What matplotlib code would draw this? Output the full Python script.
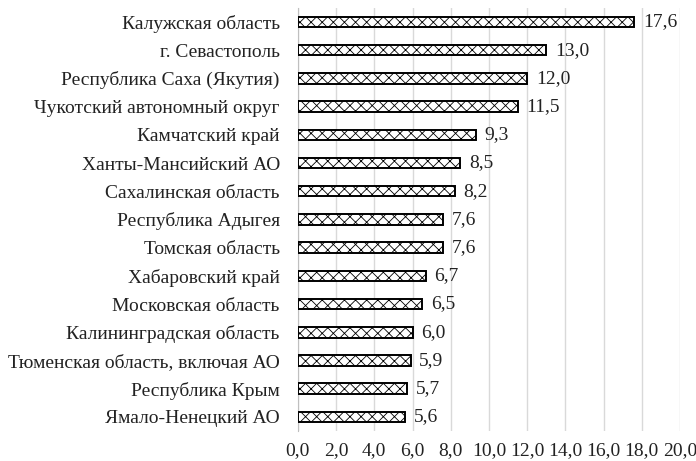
import matplotlib
matplotlib.use("Agg")
import matplotlib.pyplot as plt
import numpy as np

regions = [
    "Калужская область",
    "г. Севастополь",
    "Республика Саха (Якутия)",
    "Чукотский автономный округ",
    "Камчатский край",
    "Ханты-Мансийский АО",
    "Сахалинская область",
    "Республика Адыгея",
    "Томская область",
    "Хабаровский край",
    "Московская область",
    "Калининградская область",
    "Тюменская область, включая АО",
    "Республика Крым",
    "Ямало-Ненецкий АО",
]
values = [17.6, 13.0, 12.0, 11.5, 9.3, 8.5, 8.2, 7.6, 7.6, 6.7, 6.5, 6.0, 5.9, 5.7, 5.6]
xticks = np.arange(0, 21, 2)

plt.rcParams["font.family"] = ["Liberation Serif", "DejaVu Serif"]
plt.rcParams["hatch.linewidth"] = 0.6

fig = plt.figure(figsize=(6.96, 4.61), dpi=100)
ax = fig.add_axes([0.428, 0.065, 0.549, 0.918])

y = np.arange(len(regions))[::-1]
ax.barh(y, values, height=0.37, color="white", edgecolor="black",
        linewidth=1.4, hatch="xxx", zorder=3)
for yi, v in zip(y, values):
    ax.text(v + 0.45, yi, f"{v:.1f}".replace(".", ","), va="center",
            ha="left", fontsize=14, color="#222222")

ax.set_xlim(0, 20)
ax.set_ylim(-0.5, len(regions) - 0.5)
ax.set_xticks(xticks)
ax.set_xticklabels([f"{t:.1f}".replace(".", ",") for t in xticks], fontsize=14)
ax.set_yticks(y)
ax.set_yticklabels(regions, fontsize=14)
ax.xaxis.grid(True, color="#d9d9d9", linewidth=1, zorder=0)
for s in ["top", "right", "bottom"]:
    ax.spines[s].set_visible(False)
ax.spines["left"].set_color("#bfbfbf")
ax.tick_params(axis="both", length=0, colors="#222222")
ax.tick_params(axis="x", pad=8)
ax.tick_params(axis="y", pad=13)

fig.savefig("out.png", dpi=100)
